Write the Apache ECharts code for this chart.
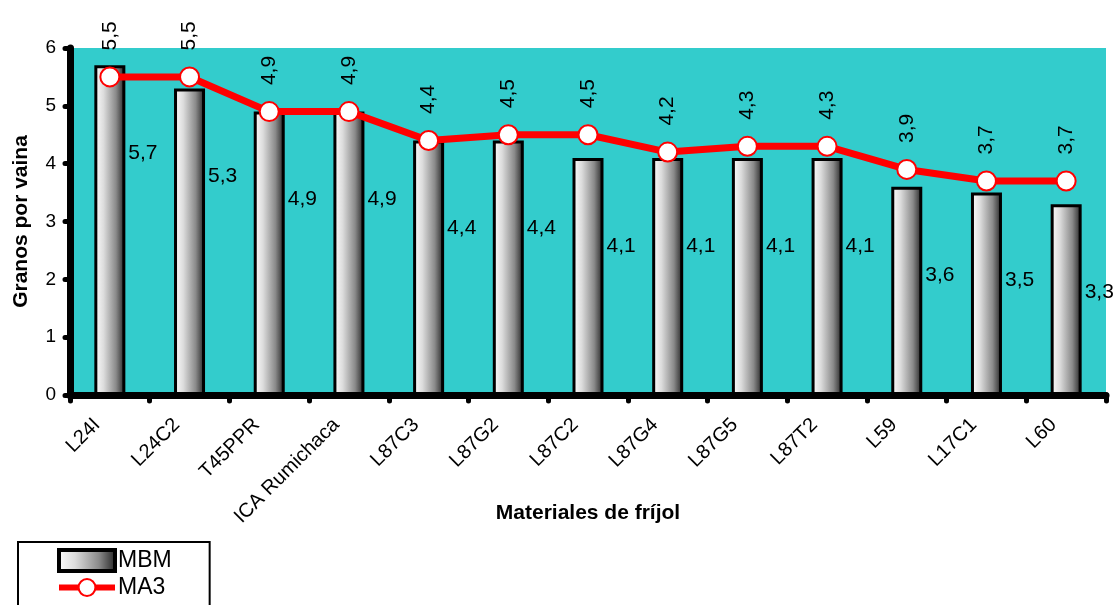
<!DOCTYPE html>
<html><head><meta charset="utf-8">
<script src="https://cdn.jsdelivr.net/npm/echarts@6/dist/echarts.min.js"></script>
<style>html,body{margin:0;padding:0;background:#fff}#c{width:1118px;height:605px}</style>
</head><body><div id="c"></div>
<script>
const categories = ['L24I','L24C2','T45PPR','ICA Rumichaca','L87C3','L87G2','L87C2','L87G4','L87G5','L87T2','L59','L17C1','L60'];
const mbm = [5.7,5.3,4.9,4.9,4.4,4.4,4.1,4.1,4.1,4.1,3.6,3.5,3.3];
const ma3 = [5.5,5.5,4.9,4.9,4.4,4.5,4.5,4.2,4.3,4.3,3.9,3.7,3.7];
const yTicks = [0,1,2,3,4,5,6];

const FONT = 'Liberation Sans, Arial, sans-serif';
const fmt = p => String(p.value).replace('.', ',');
const barGrad = () => new echarts.graphic.LinearGradient(0,0,1,0,[
  {offset:0,color:'#ffffff'},{offset:0.3,color:'#dcdcdc'},{offset:0.7,color:'#8a8a8a'},{offset:1,color:'#1e1e1e'}]);
const chart = echarts.init(document.getElementById('c'), null, {renderer:'canvas'});
chart.setOption({
  animation:false,
  textStyle:{fontFamily:FONT},
  grid:{left:70,right:12,top:48,bottom:210,show:true,backgroundColor:'#33CCCC',borderWidth:0,containLabel:false},
  legend:{
    orient:'vertical', left:18, top:542, height:90, itemGap:3,
    itemWidth:56, itemHeight:21,
    padding:[6,38,14,38],
    borderColor:'#000', borderWidth:2, backgroundColor:'#fff',
    textStyle:{fontFamily:FONT,fontSize:23,color:'#000',padding:[0,0,0,-2]},
    data:[
      {name:'MBM', icon:'rect', itemStyle:{color:barGrad(),borderColor:'#000',borderWidth:4}},
      {name:'MA3', lineStyle:{width:6,color:'#ff0000'}}
    ]
  },
  xAxis:{
    type:'category', data:categories,
    name:'Materiales de fríjol', nameLocation:'middle', nameGap:108, nameMoveOverlap:false,
    nameTextStyle:{fontFamily:FONT,fontSize:21,fontWeight:'bold',color:'#000'},
    axisLine:{lineStyle:{color:'#000',width:7}},
    axisTick:{show:true,length:6,lineStyle:{color:'#000',width:5,cap:'round'}},
    axisLabel:{rotate:45,fontSize:20,color:'#000',margin:14,padding:[0,18,0,0],fontFamily:FONT}
  },
  yAxis:{
    type:'value', min:0, max:6, interval:1,
    name:'Granos por vaina', nameLocation:'middle', nameGap:38, nameMoveOverlap:false,
    nameTextStyle:{fontFamily:FONT,fontSize:21,fontWeight:'bold',color:'#000'},
    splitLine:{show:false},
    axisLine:{show:true,lineStyle:{color:'#000',width:7}},
    axisTick:{show:true,length:5,lineStyle:{color:'#000',width:5,cap:'round'}},
    axisLabel:{fontSize:19,color:'#000',margin:14,fontFamily:FONT,
      formatter:v => yTicks.includes(v) ? String(v) : ''}
  },
  series:[
    {
      name:'MBM', type:'bar', data:mbm, barWidth:31,
      itemStyle:{color:barGrad(), borderColor:'#000', borderWidth:3},
      label:{show:true, position:[34,88], verticalAlign:'middle', align:'left',
        fontSize:21, color:'#000', fontFamily:FONT, formatter:fmt}
    },
    {
      name:'MA3', type:'line', data:ma3,
      symbol:'circle', symbolSize:19,
      lineStyle:{color:'#ff0000',width:7},
      itemStyle:{color:'#ffffff',borderColor:'#ff0000',borderWidth:2},
      label:{show:true, position:'top', distance:16, rotate:90, align:'left', verticalAlign:'middle',
        fontSize:21, color:'#000', fontFamily:FONT, formatter:fmt}
    }
  ]
});
</script></body></html>
